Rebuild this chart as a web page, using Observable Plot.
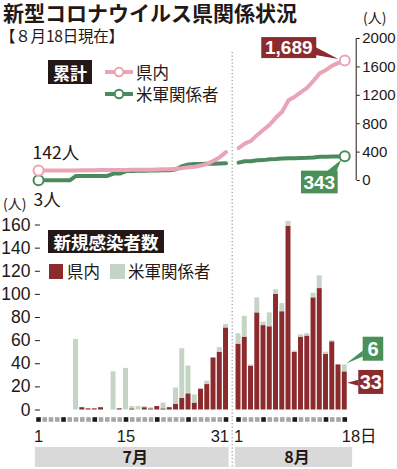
<!DOCTYPE html>
<html>
<head>
<meta charset="utf-8">
<script src="https://cdn.jsdelivr.net/npm/d3@7"></script>
<script src="https://cdn.jsdelivr.net/npm/@observablehq/plot@0.6"></script>
<style>
  html, body { margin: 0; padding: 0; background: #fff; }
  #wrap { position: relative; width: 397px; height: 469px; overflow: hidden; color: #231815;
          font-family: "Noto Sans CJK JP", "Noto Sans", sans-serif; }
  #wrap > svg { position: absolute; left: 0; }
  .abs { position: absolute; white-space: nowrap; }
  .box { position: absolute; background: #231815; color: #fff; font-weight: 700;
         display: flex; align-items: center; justify-content: center; }
  .row { position: absolute; display: flex; align-items: center; white-space: nowrap; }
</style>
</head>
<body>
<div id="wrap"></div>
<script>
// ---------------- data ----------------
const months = ["7月", "8月"];
// daily new cases, July 1..31
const julyPref = [0,0,0,0,0,0,0,2,1,1,2,0,0,1,0,1,0,2,1,3,1,2,5,10,14,6,18,22,45,50,71];
const julyUS   = [0,0,0,0,0,0,61,0,0,0,0,0,33,0,36,2,3,1,1,0,5,0,14,43,24,7,0,3,0,4,3];
// daily new cases, Aug 1..18
const augPref  = [57,63,38,84,73,72,100,85,159,50,63,64,97,105,48,59,39,33];
const augUS    = [9,18,1,13,3,12,4,7,4,1,2,2,4,11,2,1,0,6];
// cumulative totals
const julyCumPref = [142,142,142,142,142,142,142,144,145,146,148,148,148,149,149,150,150,152,153,156,157,159,164,174,188,194,212,234,279,329,400];
const augCumPref  = [457,520,558,642,715,787,887,972,1131,1181,1244,1308,1405,1510,1558,1617,1656,1689];
const julyCumUS   = [3,3,3,3,3,3,64,64,64,64,64,64,97,97,133,135,138,139,140,140,145,145,159,202,226,233,233,236,236,240,243];
const augCumUS    = [252,270,271,284,287,299,303,310,314,315,317,319,323,334,336,337,337,343];
// tick labels / marked days
const julyTickDays = [1, 15, 31];
const augTickDays  = [1, 18];
const lastTickSuffix = "日";
const julyMarked = [1,5,10,15,20,25,31];
const augMarked  = [1,5,10,15,18];
const topTicks = [0,400,800,1200,1600,2000];
const bottomTicks = [0,20,40,60,80,100,120,140,160];

// ---------------- styles ----------------
const RED = "#8c2b2e", USG = "#c4d5c6", PINK = "#eba4b5", GREEN = "#4b8a5e", GREENBOX = "#4a9159", INK = "#231815";
const numFont = '"Liberation Sans", Arial, "Noto Sans CJK JP", sans-serif';
const jpFont = '"Noto Sans CJK JP", "Noto Sans", sans-serif';
const W = 397;

// ---------------- build tables ----------------
const gap = 1;
const augStart = julyPref.length + gap;
const july = julyPref.map((v, k) => ({slot: k, day: k + 1, pref: v, us: julyUS[k], cumPref: julyCumPref[k], cumUS: julyCumUS[k], marked: julyMarked.includes(k + 1)}));
const aug = augPref.map((v, k) => ({slot: augStart + k, day: k + 1, pref: v, us: augUS[k], cumPref: augCumPref[k], cumUS: augCumUS[k], marked: augMarked.includes(k + 1)}));
const rows = july.concat(aug);
const first = rows[0], last = rows[rows.length - 1];
const lastSlot = last.slot;
const xDomain = [-0.5, lastSlot + 0.5 + 1.33];
const mL = 34.9, mR = 41.3;
const tickRows = [
  ...julyTickDays.map((d, i) => ({slot: d - 1, label: String(d), kind: i === julyTickDays.length - 1 ? "end" : "mid"})),
  ...augTickDays.map((d, i) => ({slot: augStart + d - 1, label: String(d) + (i === augTickDays.length - 1 ? lastTickSuffix : ""), kind: i === augTickDays.length - 1 ? "start" : "mid"}))
];
const monthRows = [
  {label: months[0], x1: -0.5, x2: julyPref.length - 0.5},
  {label: months[1], x1: augStart - 0.5, x2: lastSlot + 1.25}
];
const baseStyle = {background: "transparent", overflow: "visible", color: INK};
const wrap = document.getElementById("wrap");

function place(svg, top) { svg.style.top = top + "px"; wrap.appendChild(svg); return svg; }
function scaleFn(plot, name) {
  const s = plot.scale(name);
  if (s.apply) return v => s.apply(v);
  return d3.scaleLinear(s.domain, s.range);
}

// ---------------- divider (full height) ----------------
const divider = Plot.plot({
  width: W, height: 469, marginTop: 52, marginBottom: 2, marginLeft: mL, marginRight: mR,
  style: baseStyle,
  x: {domain: xDomain, axis: null}, y: {axis: null},
  marks: [Plot.ruleX([julyPref.length], {stroke: "#b0b0b0", strokeWidth: 1.6, strokeDasharray: "1.3,2.2"})]
});
place(divider, 0);

// ---------------- cumulative chart ----------------
const topPlot = Plot.plot({
  width: W, height: 200, marginTop: 38, marginBottom: 20, marginLeft: mL, marginRight: mR,
  style: baseStyle,
  x: {domain: xDomain, axis: null},
  y: {domain: [0, 2000]},
  marks: [
    Plot.ruleX([xDomain[1]], {y1: 0, y2: 2000, stroke: INK, strokeWidth: 1}),
    Plot.axisY(topTicks, {anchor: "right", tickSize: 3, tickPadding: 3, fontSize: 15, fontFamily: numFont, label: null, tickFormat: d => String(d)}),
    Plot.line(july, {x: "slot", y: "cumUS", stroke: GREEN, strokeWidth: 4, strokeLinejoin: "round"}),
    Plot.line(aug, {x: "slot", y: "cumUS", stroke: GREEN, strokeWidth: 4, strokeLinejoin: "round"}),
    Plot.line(july, {x: "slot", y: "cumPref", stroke: PINK, strokeWidth: 4, strokeLinejoin: "round"}),
    Plot.line(aug, {x: "slot", y: "cumPref", stroke: PINK, strokeWidth: 4, strokeLinejoin: "round"}),
    Plot.dot([first, last], {x: "slot", y: "cumUS", r: 5, fill: "white", stroke: GREEN, strokeWidth: 2}),
    Plot.dot([first, last], {x: "slot", y: "cumPref", r: 5, fill: "white", stroke: PINK, strokeWidth: 2}),
    Plot.text([first], {x: "slot", y: "cumPref", text: d => d.cumPref + "人", textAnchor: "start", dx: -6, dy: -17, fontSize: 17.5, fontFamily: jpFont}),
    Plot.text([first], {x: "slot", y: "cumUS", text: d => d.cumUS + "人", textAnchor: "start", dx: -5, dy: 20, fontSize: 17.5, fontFamily: jpFont})
  ]
});
place(topPlot, 0);

// ---------------- daily bars ----------------
const BOT_TOP = 200;
const botPlot = Plot.plot({
  width: W, height: 245, marginTop: 24.5, marginBottom: 35.5, marginLeft: mL, marginRight: mR,
  style: baseStyle,
  x: {domain: xDomain, axis: null},
  y: {domain: [0, 160]},
  marks: [
    Plot.axisY(bottomTicks, {anchor: "left", tickSize: 5, tickPadding: 5, dx: 5, fontSize: 17.5, fontFamily: numFont, label: null}),
    Plot.rect(rows, {x1: d => d.slot - 0.5, x2: d => d.slot + 0.5, y1: 0, y2: "pref", fill: RED, insetLeft: 0.65, insetRight: 0.65}),
    Plot.rect(rows.filter(d => d.us > 0), {x1: d => d.slot - 0.5, x2: d => d.slot + 0.5, y1: "pref", y2: d => d.pref + d.us, fill: USG, insetLeft: 0.65, insetRight: 0.65}),
    Plot.dot(rows.filter(d => !d.marked), {x: "slot", y: 0, dy: 9.5, symbol: "square", r: 2.6, fill: "#a6a6a6"}),
    Plot.dot(rows.filter(d => d.marked), {x: "slot", y: 0, dy: 9.5, symbol: "square", r: 2.6, fill: "#1a1a1a"}),
    Plot.text(tickRows.filter(d => d.kind === "mid"), {x: "slot", y: 0, dy: 26.5, text: "label", fontSize: 16.5, fontFamily: numFont}),
    Plot.text(tickRows.filter(d => d.kind === "end"), {x: "slot", y: 0, dy: 26.5, dx: 3, textAnchor: "end", text: "label", fontSize: 16.5, fontFamily: numFont}),
    Plot.text(tickRows.filter(d => d.kind === "start"), {x: "slot", y: 0, dy: 26.5, dx: -3, textAnchor: "start", text: "label", fontSize: 16.5, fontFamily: numFont})
  ]
});
place(botPlot, BOT_TOP);

// ---------------- month bands ----------------
const monthPlot = Plot.plot({
  width: W, height: 24, marginTop: 2, marginBottom: 2, marginLeft: mL, marginRight: mR,
  style: baseStyle,
  x: {domain: xDomain, axis: null}, y: {axis: null},
  marks: [
    Plot.rect(monthRows, {x1: "x1", x2: "x2", fill: "#d9d9d9"}),
    Plot.text(monthRows, {x: d => (d.x1 + d.x2) / 2, dx: 3, text: "label", frameAnchor: "middle", fontSize: 16, fontWeight: 700, fontFamily: jpFont})
  ]
});
place(monthPlot, 445);

// ---------------- callouts ----------------
function callout(svg, o) {
  const g = d3.select(svg).append("g");
  g.append("polygon").attr("points", o.wedge.map(p => p.join(",")).join(" ")).attr("fill", o.fill);
  g.append("rect").attr("x", o.x).attr("y", o.y).attr("width", o.w).attr("height", o.h).attr("fill", o.fill);
  g.append("text").attr("x", o.x + o.w / 2).attr("y", o.y + o.h / 2).attr("dy", "0.36em")
    .attr("text-anchor", "middle").attr("fill", "#fff").attr("font-family", numFont)
    .attr("font-weight", 700).attr("font-size", o.fs).text(o.text);
}
{
  const fx = scaleFn(topPlot, "x"), fy = scaleFn(topPlot, "y");
  const px = fx(last.slot), py = fy(last.cumPref);
  callout(topPlot, {x: px - 83, y: py - 23, w: 55, h: 21, fill: RED, fs: 19,
    text: d3.format(",")(last.cumPref),
    wedge: [[px - 29, py - 13], [px - 29, py - 5], [px - 6, py - 1]]});
  const qy = fy(last.cumUS);
  callout(topPlot, {x: px - 43.3, y: qy + 15, w: 36.7, h: 22.7, fill: GREENBOX, fs: 19,
    text: String(last.cumUS),
    wedge: [[px - 18, qy + 16], [px - 8, qy + 16], [px - 3, qy + 4]]});
}
{
  const fx = scaleFn(botPlot, "x"), fy = scaleFn(botPlot, "y");
  const px = fx(last.slot);
  const ty = fy(last.pref + last.us), ry = fy(last.pref);
  callout(botPlot, {x: px + 18.4, y: ty - 27.7, w: 20.6, h: 24, fill: GREENBOX, fs: 20,
    text: String(last.us),
    wedge: [[px + 2, ty - 1], [px + 18.6, ty - 14], [px + 18.6, ty - 8]]});
  callout(botPlot, {x: px + 14, y: ry - 1.4, w: 25, h: 24, fill: RED, fs: 20,
    text: String(last.pref),
    wedge: [[px + 3, ry + 11.5], [px + 14.2, ry + 8.5], [px + 14.2, ry + 14.5]]});
}

// ---------------- text & legends (HTML) ----------------
function add(html) { wrap.insertAdjacentHTML("beforeend", html); }
const lineKey = c => `<svg width="28" height="12" style="margin-right:3px"><line x1="0" x2="28" y1="6" y2="6" stroke="${c}" stroke-width="4"/><circle cx="14" cy="6" r="4.3" fill="#fff" stroke="${c}" stroke-width="2"/></svg>`;
add(`<div class="abs" style="left:3px;top:1px;font-size:21px;line-height:22px;font-weight:700">新型コロナウイルス県関係状況</div>`);
add(`<div class="abs" style="left:0px;top:25.5px;font-size:15.5px;line-height:18px;letter-spacing:-0.2px">【８月18日現在】</div>`);
add(`<div class="abs" style="left:363px;top:8px;font-size:14px;line-height:18px">(人)</div>`);
add(`<div class="abs" style="left:3px;top:194px;font-size:14px;line-height:18px">(人)</div>`);
add(`<div class="box" style="left:48px;top:60px;width:44px;height:24px;font-size:17px">累計</div>`);
add(`<div class="row" style="left:105px;top:62px;height:20px;font-size:16.5px">${lineKey(PINK)}県内</div>`);
add(`<div class="row" style="left:105px;top:84px;height:20px;font-size:16.5px">${lineKey(GREEN)}米軍関係者</div>`);
add(`<div class="box" style="left:48px;top:229.5px;width:116px;height:23px;font-size:17.5px">新規感染者数</div>`);
add(`<div class="row" style="left:49px;top:261px;height:20px;font-size:16.5px"><span style="display:inline-block;width:14px;height:15px;background:${RED};margin-right:4px"></span>県内</div>`);
add(`<div class="row" style="left:110px;top:261px;height:20px;font-size:16.5px"><span style="display:inline-block;width:15px;height:15px;background:${USG};margin-right:3px"></span>米軍関係者</div>`);
</script>
</body>
</html>
